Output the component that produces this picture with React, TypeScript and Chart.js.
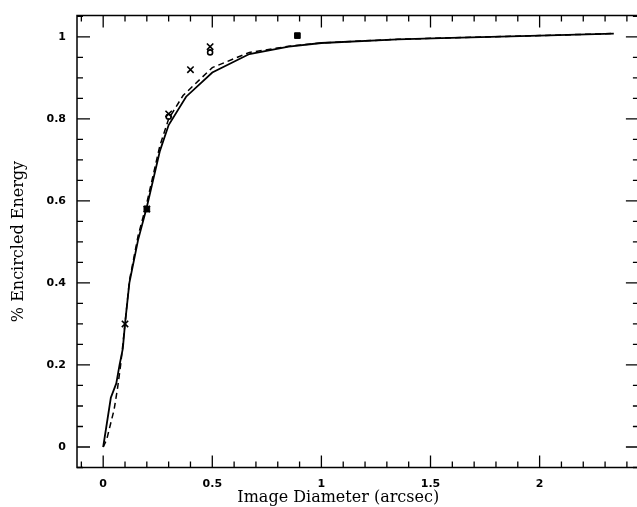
import { useEffect, useRef } from "react";
import { Chart, registerables } from "chart.js";

Chart.register(...registerables);

// ---- data ----
const X_LABEL_TICKS = [0, 0.5, 1, 1.5, 2];
const Y_LABEL_TICKS = [0, 0.2, 0.4, 0.6, 0.8, 1];
const X_MAJOR = [0, 0.5, 1, 1.5, 2];
const X_MINOR = [-0.1, 0.1, 0.2, 0.3, 0.4, 0.6, 0.7, 0.8, 0.9, 1.1, 1.2, 1.3, 1.4, 1.6, 1.7, 1.8, 1.9, 2.1, 2.2, 2.3, 2.4];
const Y_MAJOR = [0, 0.2, 0.4, 0.6, 0.8, 1];
const Y_MINOR = [-0.05, 0.05, 0.1, 0.15, 0.25, 0.3, 0.35, 0.45, 0.5, 0.55, 0.65, 0.7, 0.75, 0.85, 0.9, 0.95, 1.05];

const SOLID_X = [0, 0.035, 0.06, 0.075, 0.09, 0.1, 0.12, 0.16, 0.2, 0.26, 0.3, 0.38, 0.5, 0.67, 0.85, 1.0, 1.35, 1.55, 2.0, 2.34];
const SOLID_Y = [0, 0.12, 0.155, 0.2, 0.24, 0.3, 0.4, 0.505, 0.585, 0.722, 0.785, 0.854, 0.913, 0.958, 0.976, 0.985, 0.994, 0.997, 1.003, 1.008];

const DASHED_X = [0, 0.016, 0.05, 0.066, 0.08, 0.1, 0.12, 0.16, 0.2, 0.26, 0.3, 0.366, 0.5, 0.67, 0.85, 1.0, 1.35, 1.55, 2.0, 2.34];
const DASHED_Y = [0, 0.018, 0.091, 0.144, 0.2, 0.3, 0.405, 0.515, 0.595, 0.735, 0.8, 0.857, 0.925, 0.962, 0.977, 0.985, 0.994, 0.997, 1.003, 1.008];

const CROSS_X = [0.1, 0.2, 0.3, 0.4, 0.49];
const CROSS_Y = [0.3, 0.58, 0.812, 0.92, 0.976];
const CIRCLE_X = [0.3, 0.49];
const CIRCLE_Y = [0.805, 0.962];
const SQUARE_X = [0.2, 0.89];
const SQUARE_Y = [0.58, 1.003];

const X_TITLE = "Image Diameter (arcsec)";
const Y_TITLE = "% Encircled Energy";

const pts = (xs: number[], ys: number[]) => xs.map((x, i) => ({ x, y: ys[i] }));

const framePlugin = {
  id: "frameTicks",
  afterDraw(chart: any) {
    const { ctx, chartArea: a, scales } = chart;
    const xs = scales.x;
    const ys = scales.y;
    ctx.save();
    ctx.strokeStyle = "#000";
    ctx.lineWidth = 1.5;
    ctx.strokeRect(a.left, a.top, a.right - a.left, a.bottom - a.top);
    ctx.lineWidth = 1.3;
    const xt = (vals: number[], len: number) => {
      vals.forEach((v) => {
        const p = xs.getPixelForValue(v);
        ctx.beginPath();
        ctx.moveTo(p, a.bottom);
        ctx.lineTo(p, a.bottom - len);
        ctx.moveTo(p, a.top);
        ctx.lineTo(p, a.top + len);
        ctx.stroke();
      });
    };
    const yt = (vals: number[], len: number) => {
      vals.forEach((v) => {
        const p = ys.getPixelForValue(v);
        ctx.beginPath();
        ctx.moveTo(a.left, p);
        ctx.lineTo(a.left + len, p);
        ctx.moveTo(a.right, p);
        ctx.lineTo(a.right - len, p);
        ctx.stroke();
      });
    };
    xt(X_MAJOR, 12);
    xt(X_MINOR, 6);
    yt(Y_MAJOR, 13);
    yt(Y_MINOR, 6);

    ctx.fillStyle = "#000";
    ctx.font = "16px 'DejaVu Serif'";
    ctx.textAlign = "center";
    ctx.textBaseline = "alphabetic";
    ctx.fillText(X_TITLE, a.left + (a.right - a.left) * 0.465, 502);
    ctx.translate(19, (a.top + a.bottom) / 2);
    ctx.rotate(-Math.PI / 2);
    ctx.textBaseline = "middle";
    ctx.fillText(Y_TITLE, 0, 0);
    ctx.restore();
  },
};

export default function App() {
  const ref = useRef<HTMLCanvasElement | null>(null);
  useEffect(() => {
    document.body.style.margin = "0";
    document.body.style.overflow = "hidden";
    if (!ref.current) return;
    const chart = new Chart(ref.current, {
      type: "scatter",
      data: {
        datasets: [
          {
            data: pts(SOLID_X, SOLID_Y),
            showLine: true,
            borderColor: "#000",
            borderWidth: 1.8,
            pointRadius: 0,
            tension: 0,
          },
          {
            data: pts(DASHED_X, DASHED_Y),
            showLine: true,
            borderColor: "#000",
            borderWidth: 1.5,
            borderDash: [6, 4],
            pointRadius: 0,
            tension: 0,
          },
          {
            data: pts(CROSS_X, CROSS_Y),
            pointStyle: "crossRot",
            pointRadius: 4.5,
            borderColor: "#000",
            borderWidth: 1.6,
            showLine: false,
          },
          {
            data: pts(CIRCLE_X, CIRCLE_Y),
            pointStyle: "circle",
            pointRadius: 2.5,
            borderColor: "#000",
            backgroundColor: "#fff",
            borderWidth: 1.6,
            showLine: false,
          },
          {
            data: pts(SQUARE_X, SQUARE_Y),
            pointStyle: "rect",
            pointRadius: 4,
            borderColor: "#000",
            backgroundColor: "#000",
            borderWidth: 1,
            showLine: false,
          },
        ],
      },
      options: {
        animation: false,
        responsive: false,
        layout: { padding: { left: 0, top: 15.5, right: 3, bottom: 0 } },
        plugins: { legend: { display: false }, tooltip: { enabled: false } },
        scales: {
          x: {
            type: "linear",
            min: -0.12,
            max: 2.455,
            grid: { display: false, drawTicks: false },
            border: { display: false },
            afterBuildTicks: (s: any) => {
              s.ticks = X_LABEL_TICKS.map((v) => ({ value: v }));
            },
            afterFit: (s: any) => {
              s.height = 39.5;
              s.paddingLeft = 0;
              s.paddingRight = 0;
            },
            ticks: {
              color: "#000",
              padding: 10,
              maxRotation: 0,
              autoSkip: false,
              font: { family: "'DejaVu Sans'", size: 11, weight: "bold" },
              callback: (v: any) => String(v),
            },
          },
          y: {
            type: "linear",
            min: -0.05,
            max: 1.052,
            grid: { display: false, drawTicks: false },
            border: { display: false },
            afterBuildTicks: (s: any) => {
              s.ticks = Y_LABEL_TICKS.map((v) => ({ value: v }));
            },
            afterFit: (s: any) => {
              s.width = 77;
              s.paddingTop = 0;
              s.paddingBottom = 0;
            },
            ticks: {
              color: "#000",
              padding: 11,
              autoSkip: false,
              font: { family: "'DejaVu Sans'", size: 11, weight: "bold" },
              callback: (v: any) => String(v),
            },
          },
        },
      },
      plugins: [framePlugin],
    } as any);
    return () => chart.destroy();
  }, []);
  return (
    <div style={{ position: "fixed", left: 0, top: 0, width: 637, height: 507, overflow: "hidden", background: "#fff" }}>
      <canvas ref={ref} width={645} height={507} style={{ width: 645, height: 507, display: "block" }} />
    </div>
  );
}
